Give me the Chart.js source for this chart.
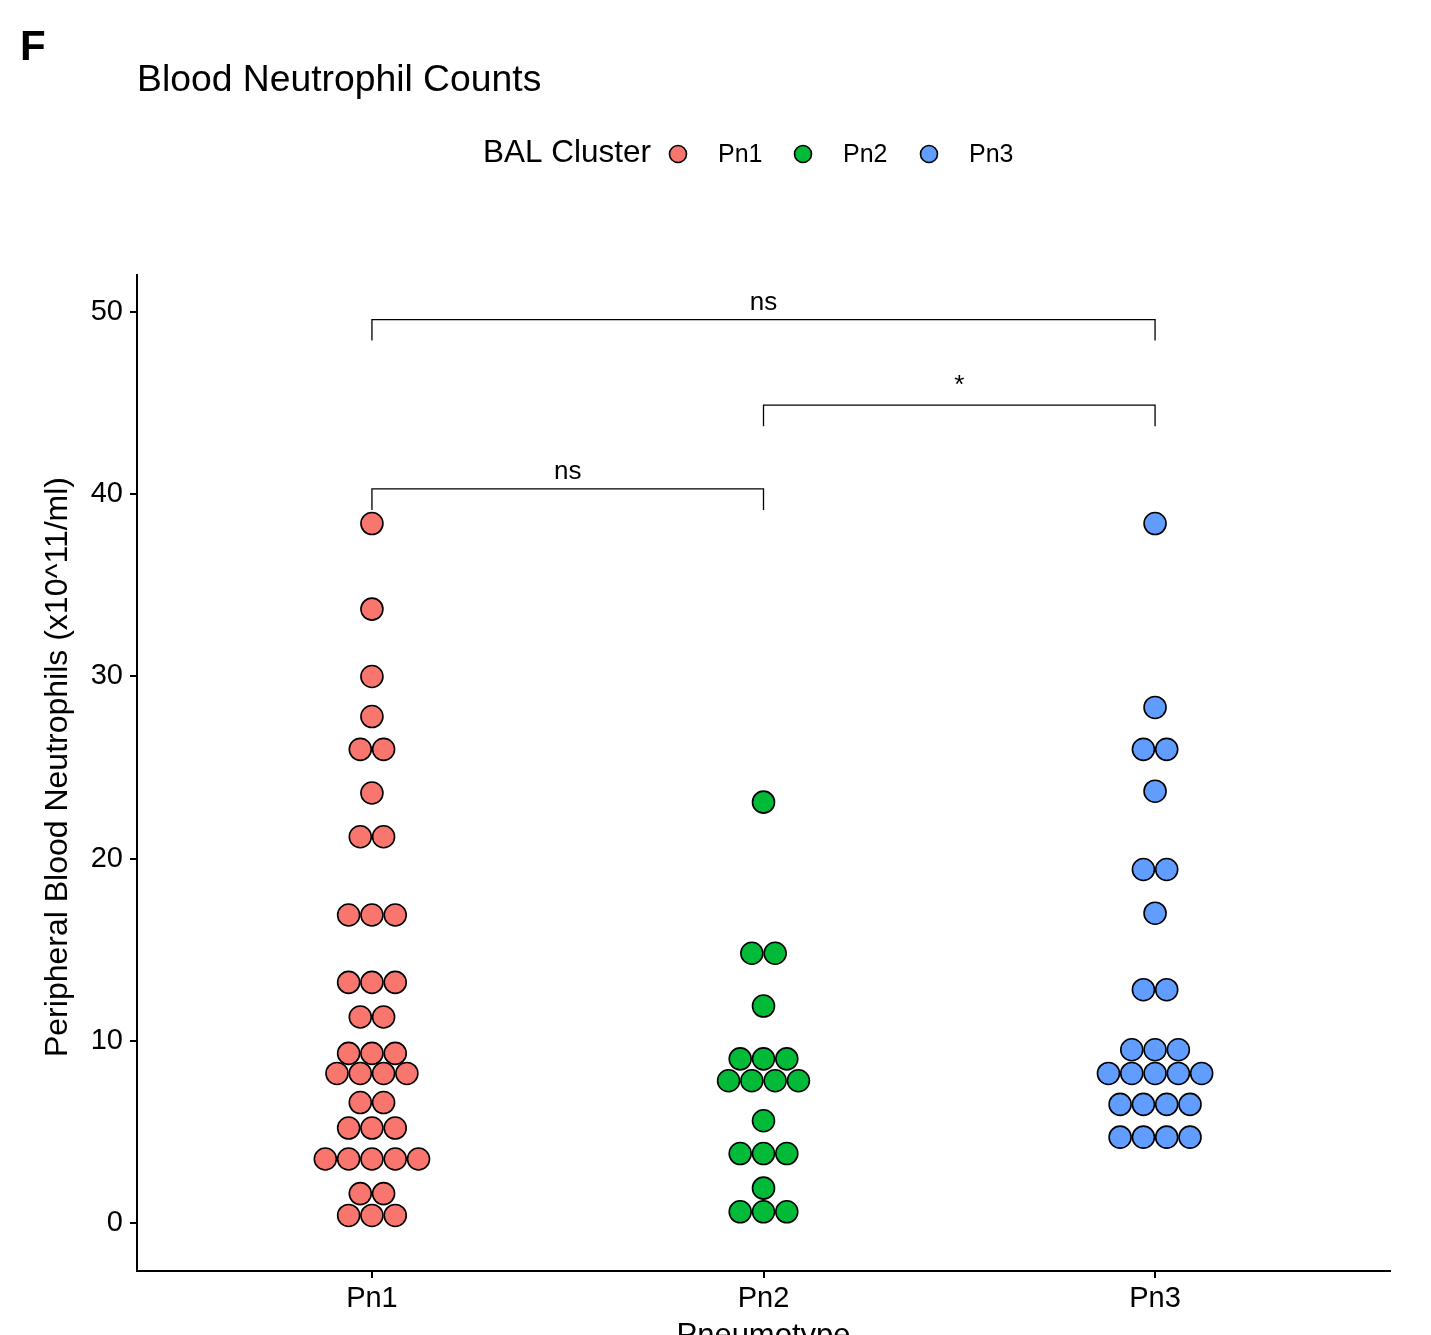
<!DOCTYPE html>
<html>
<head>
<meta charset="utf-8">
<title>Blood Neutrophil Counts</title>
<script src="https://cdn.jsdelivr.net/npm/chart.js@4/dist/chart.umd.min.js"></script>
<style>
  html, body { margin: 0; padding: 0; background: #ffffff; }
  #wrap { width: 1431px; height: 1335px; }
</style>
</head>
<body>
<div id="wrap"><canvas id="chart" width="1431" height="1335"></canvas></div>
<script>
// Pneumotype groups on the x axis
const categories = ['Pn1', 'Pn2', 'Pn3'];
const groupColors = ['#F8766D', '#00BA38', '#619CFF'];

// Peripheral blood neutrophils (x10^11/ml), binned dot values; repeated values stack side by side
const pn1Values = [38.4, 33.7, 30.0, 27.8, 26.0, 26.0, 23.6, 21.2, 21.2,
  16.9, 16.9, 16.9, 13.2, 13.2, 13.2, 11.3, 11.3, 9.3, 9.3, 9.3,
  8.2, 8.2, 8.2, 8.2, 6.6, 6.6, 5.2, 5.2, 5.2,
  3.5, 3.5, 3.5, 3.5, 3.5, 1.6, 1.6, 0.4, 0.4, 0.4];
const pn2Values = [23.1, 14.8, 14.8, 11.9, 9.0, 9.0, 9.0, 7.8, 7.8, 7.8, 7.8,
  5.6, 3.8, 3.8, 3.8, 1.9, 0.6, 0.6, 0.6];
const pn3Values = [38.4, 28.3, 26.0, 26.0, 23.7, 19.4, 19.4, 17.0, 12.8, 12.8,
  9.5, 9.5, 9.5, 8.2, 8.2, 8.2, 8.2, 8.2, 6.5, 6.5, 6.5, 6.5, 4.7, 4.7, 4.7, 4.7];

// Axis ticks
const yTicks = [0, 10, 20, 30, 40, 50];
const xTicks = [1, 2, 3];

// Pairwise comparisons: group indices, significance label, bracket height
const comparisonPairs = [[0, 2], [1, 2], [0, 1]];
const comparisonLabels = ['ns', '*', 'ns'];
const comparisonLevels = [49.6, 44.9, 40.3];
const bracketDrop = 1.15;

const FONT = '"Liberation Sans", Arial, Helvetica, sans-serif';
const DOT_STEP = 0.0595; // horizontal distance between stacked dots, in x units

// Centre the dots that share a value around the group's position
function stackPoints(values, groupIndex) {
  const counts = {};
  values.forEach(v => { counts[v] = (counts[v] || 0) + 1; });
  const seen = {};
  return values.map(v => {
    const k = seen[v] || 0;
    seen[v] = k + 1;
    return { x: groupIndex + 1 + (k - (counts[v] - 1) / 2) * DOT_STEP, y: v };
  });
}

const groupValues = [pn1Values, pn2Values, pn3Values];
const datasets = categories.map((name, i) => ({
  label: name,
  data: stackPoints(groupValues[i], i),
  backgroundColor: groupColors[i],
  borderColor: '#000000',
  borderWidth: 1.6,
  pointRadius: 11,
  pointHoverRadius: 11
}));

const decorations = {
  id: 'decorations',
  afterDraw(chart) {
    const ctx = chart.ctx;
    const xs = chart.scales.x, ys = chart.scales.y;
    ctx.save();
    ctx.fillStyle = '#000';

    // panel letter
    ctx.font = 'bold 42px ' + FONT;
    ctx.textAlign = 'left';
    ctx.textBaseline = 'alphabetic';
    ctx.fillText('F', 20, 60);

    // title
    ctx.font = '37.3px ' + FONT;
    ctx.fillText('Blood Neutrophil Counts', 137, 91);

    // legend
    ctx.font = '31.5px ' + FONT;
    ctx.textBaseline = 'middle';
    ctx.fillText('BAL Cluster', 483, 153);
    const legendDotX = [678, 803, 929];
    ctx.font = '25px ' + FONT;
    chart.data.datasets.forEach((ds, i) => {
      ctx.beginPath();
      ctx.arc(legendDotX[i], 154, 8.5, 0, Math.PI * 2);
      ctx.fillStyle = ds.backgroundColor;
      ctx.fill();
      ctx.lineWidth = 1.6;
      ctx.strokeStyle = '#000';
      ctx.stroke();
      ctx.fillStyle = '#000';
      ctx.fillText(ds.label, legendDotX[i] + 40, 155);
    });

    // y axis title
    ctx.save();
    ctx.translate(58, 767);
    ctx.rotate(-Math.PI / 2);
    ctx.textAlign = 'center';
    ctx.textBaseline = 'middle';
    ctx.font = '32px ' + FONT;
    ctx.fillText('Peripheral Blood Neutrophils (x10^11/ml)', 0, 0);
    ctx.restore();

    // x axis title
    ctx.textAlign = 'center';
    ctx.textBaseline = 'alphabetic';
    ctx.font = '31px ' + FONT;
    ctx.fillText('Pneumotype', (xs.left + xs.right) / 2, 1345);

    // significance brackets
    ctx.strokeStyle = '#000';
    ctx.lineWidth = 1.3;
    comparisonPairs.forEach((pair, i) => {
      const x1 = xs.getPixelForValue(pair[0] + 1);
      const x2 = xs.getPixelForValue(pair[1] + 1);
      const yTop = ys.getPixelForValue(comparisonLevels[i]);
      const yLow = ys.getPixelForValue(comparisonLevels[i] - bracketDrop);
      ctx.beginPath();
      ctx.moveTo(x1, yLow);
      ctx.lineTo(x1, yTop);
      ctx.lineTo(x2, yTop);
      ctx.lineTo(x2, yLow);
      ctx.stroke();
      ctx.font = '26px ' + FONT;
      ctx.textAlign = 'center';
      ctx.textBaseline = 'alphabetic';
      ctx.fillText(comparisonLabels[i], (x1 + x2) / 2, yTop - (comparisonLabels[i] === '*' ? 12 : 10));
    });
    ctx.restore();
  }
};

new Chart(document.getElementById('chart'), {
  type: 'scatter',
  data: { datasets },
  options: {
    responsive: false,
    animation: false,
    layout: { padding: { top: 275, right: 41, left: 0, bottom: 0 } },
    plugins: {
      legend: { display: false },
      title: { display: false },
      tooltip: { enabled: false }
    },
    scales: {
      x: {
        type: 'linear',
        min: 0.4,
        max: 3.6,
        afterBuildTicks(scale) { scale.ticks = xTicks.map(v => ({ value: v })); },
        afterFit(scale) { scale.height = 64; },
        ticks: {
          autoSkip: false,
          maxRotation: 0,
          color: '#000',
          padding: 4,
          font: { family: FONT, size: 29 },
          callback: v => categories[v - 1]
        },
        grid: { drawOnChartArea: false, drawTicks: true, tickLength: 7, color: '#000', lineWidth: 2 },
        border: { display: true, color: '#000', width: 2 }
      },
      y: {
        min: -2.65,
        max: 52.05,
        afterBuildTicks(scale) { scale.ticks = yTicks.map(v => ({ value: v })); },
        afterFit(scale) { scale.width = 137; },
        ticks: {
          color: '#000',
          padding: 7,
          font: { family: FONT, size: 29 }
        },
        grid: { drawOnChartArea: false, drawTicks: true, tickLength: 7, color: '#000', lineWidth: 2 },
        border: { display: true, color: '#000', width: 2 }
      }
    }
  },
  plugins: [decorations]
});
</script>
</body>
</html>
